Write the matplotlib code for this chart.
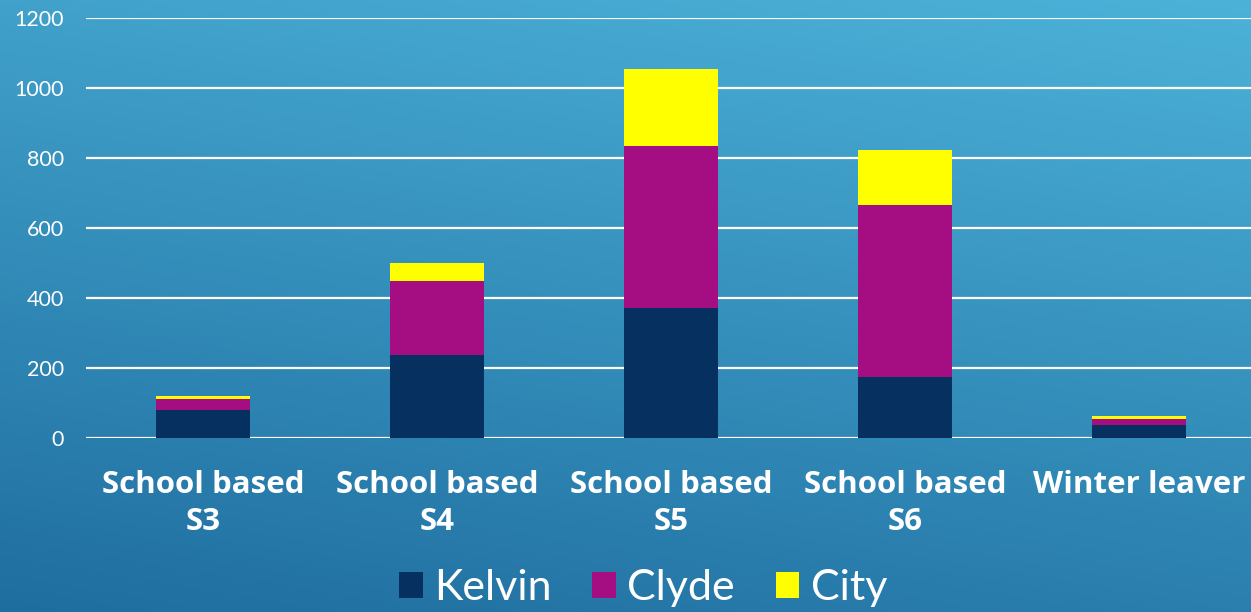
import numpy as np
import matplotlib
matplotlib.use("Agg")
import matplotlib.pyplot as plt
from matplotlib.patches import Patch

categories = ["School based\nS3", "School based\nS4", "School based\nS5", "School based\nS6", "Winter leaver"]
series_names = ["Kelvin", "Clyde", "City"]
kelvin = [80, 237, 371, 174, 38]
clyde = [31, 211, 463, 491, 16]
city = [9, 51, 220, 157, 9]
yticks = [0, 200, 400, 600, 800, 1000, 1200]

colors = ["#05305F", "#A50E82", "#FFFF00"]

W, H = 1251, 612
fig = plt.figure(figsize=(W / 100, H / 100), dpi=100)

# background gradient (lighter top-right, darker bottom-left)
bg = fig.add_axes([0, 0, 1, 1])
yy, xx = np.mgrid[0:1:200j, 0:1:400j]
t = 0.75 * yy + 0.25 * (1 - xx)
c_top = np.array([0x4C, 0xB2, 0xD8]) / 255
c_bot = np.array([0x1F, 0x6E, 0xA0]) / 255
img = c_top[None, None, :] * (1 - t[..., None]) + c_bot[None, None, :] * t[..., None]
bg.imshow(img, aspect="auto", extent=[0, 1, 0, 1], origin="upper")
bg.set_axis_off()

ax = fig.add_axes([86 / W, 1 - 438 / H, (1256 - 86) / W, (438 - 18) / H])
ax.set_facecolor("none")
x = np.arange(len(categories))
bw = 0.4
bottom = np.zeros(len(categories))
for name, vals, col in zip(series_names, [kelvin, clyde, city], colors):
    ax.bar(x, vals, bw, bottom=bottom, color=col, label=name, zorder=3)
    bottom += np.array(vals)

ax.set_ylim(0, 1200)
ax.set_xlim(-0.5, 4.5)
ax.set_yticks(yticks)
ax.set_yticklabels([str(v) for v in yticks], fontsize=15.5, color="white", family="Lato")
ax.yaxis.grid(True, color="white", linewidth=1.6, zorder=1)
ax.set_axisbelow(True)
ax.tick_params(axis="y", length=0, pad=16)
ax.set_xticks(x)
ax.set_xticklabels(categories, fontsize=22.5, fontweight="bold", color="white",
                   family="Open Sans", linespacing=1.3)
ax.tick_params(axis="x", length=0, pad=23)
for s in ax.spines.values():
    s.set_visible(False)
ax.axhline(0, color="white", linewidth=2, zorder=2)

handles = [Patch(facecolor=c, edgecolor="none") for c in colors]
leg = fig.legend(handles, series_names, loc="center", bbox_to_anchor=(643 / W, 1 - 588 / H),
                 ncol=3, frameon=False, handlelength=0.55, handleheight=0.55,
                 handletextpad=0.26, columnspacing=0.95, prop={"family": "Lato", "size": 31})
for t_ in leg.get_texts():
    t_.set_color("white")

fig.savefig("out.png", dpi=100)
